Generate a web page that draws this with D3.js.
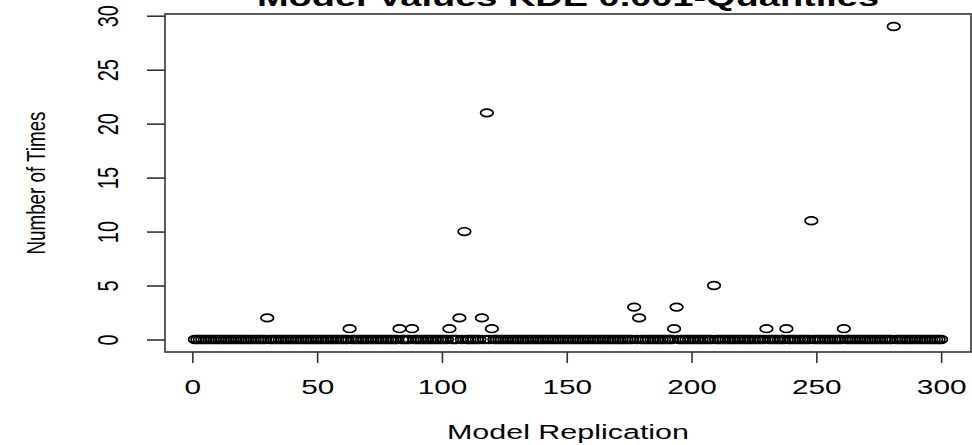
<!DOCTYPE html>
<html><head><meta charset="utf-8">
<script src="https://cdn.jsdelivr.net/npm/d3@7"></script>
<style>body{margin:0;background:#fff}svg{display:block}</style>
</head><body>
<svg id="c" width="972" height="445"></svg>
<script>
// Number of times per model replication (index 1..300)
const timesValues = [
  0,0,0,0,0,0,0,0,0,0,0,0,0,0,0,0,0,0,0,0,
  0,0,0,0,0,0,0,0,0,2,0,0,0,0,0,0,0,0,0,0,
  0,0,0,0,0,0,0,0,0,0,0,0,0,0,0,0,0,0,0,0,
  0,0,1,0,0,0,0,0,0,0,0,0,0,0,0,0,0,0,0,0,
  0,0,1,0,0,0,0,1,0,0,0,0,0,0,0,0,0,0,0,0,
  0,0,1,0,0,0,2,0,10,0,0,0,0,0,0,2,0,21,0,1,
  0,0,0,0,0,0,0,0,0,0,0,0,0,0,0,0,0,0,0,0,
  0,0,0,0,0,0,0,0,0,0,0,0,0,0,0,0,0,0,0,0,
  0,0,0,0,0,0,0,0,0,0,0,0,0,0,0,0,3,0,2,0,
  0,0,0,0,0,0,0,0,0,0,0,0,1,3,0,0,0,0,0,0,
  0,0,0,0,0,0,0,0,5,0,0,0,0,0,0,0,0,0,0,0,
  0,0,0,0,0,0,0,0,0,1,0,0,0,0,0,0,0,1,0,0,
  0,0,0,0,0,0,0,11,0,0,0,0,0,0,0,0,0,0,0,0,
  1,0,0,0,0,0,0,0,0,0,0,0,0,0,0,0,0,0,0,0,
  29,0,0,0,0,0,0,0,0,0,0,0,0,0,0,0,0,0,0,0
];
const xTicks = [0, 50, 100, 150, 200, 250, 300];
const yTicks = [0, 5, 10, 15, 20, 25, 30];
const titleText = "Model Values KDE 0.001-Quantiles";
const xLabel = "Model Replication";
const yLabel = "Number of Times";

const FONT = "'Liberation Sans', Arial, Helvetica, sans-serif";
const STRETCH = 1.45;
const box = {left: 165, right: 971, top: 14, bottom: 352};

const pts = timesValues.map((v, i) => ({rep: i + 1, v}));
const xExt = d3.extent(pts, d => d.rep), yExt = d3.extent(pts, d => d.v);
const xPad = (xExt[1] - xExt[0]) * 0.04, yPad = (yExt[1] - yExt[0]) * 0.04;
const x = d3.scaleLinear().domain([xExt[0] - xPad, xExt[1] + xPad]).range([box.left, box.right]);
const y = d3.scaleLinear().domain([yExt[0] - yPad, yExt[1] + yPad]).range([box.bottom, box.top]);

const svg = d3.select("#c");
svg.append("rect").attr("width", 972).attr("height", 445).attr("fill", "#fff");

function stretchText(sel, factor) {
  sel.each(function () {
    const len = this.getComputedTextLength();
    d3.select(this).attr("textLength", len * factor).attr("lengthAdjust", "spacingAndGlyphs");
  });
}

// points
svg.append("g").selectAll("ellipse").data(pts).join("ellipse")
  .attr("cx", d => x(d.rep)).attr("cy", d => y(d.v))
  .attr("rx", 6.3).attr("ry", 3.8)
  .attr("fill", "none").attr("stroke", "#000").attr("stroke-width", 1.7);

// box
svg.append("rect")
  .attr("x", box.left).attr("y", box.top)
  .attr("width", box.right - box.left).attr("height", box.bottom - box.top)
  .attr("fill", "none").attr("stroke", "#333").attr("stroke-width", 1.6);

// bottom axis
const gx = svg.append("g").attr("transform", `translate(0,${box.bottom})`)
  .call(d3.axisBottom(x).tickValues(xTicks).tickSize(11).tickSizeOuter(0).tickFormat(d3.format("d")));
gx.select(".domain").remove();
gx.selectAll(".tick line").attr("stroke", "#333").attr("stroke-width", 1.6);
gx.attr("font-family", FONT).attr("font-size", 20.5);
gx.selectAll(".tick text").attr("y", 42).attr("dy", 0)
  .attr("font-family", FONT).attr("font-size", 20.5).attr("fill", "#000");
stretchText(gx.selectAll(".tick text"), STRETCH);

// left axis
const gy = svg.append("g").attr("transform", `translate(${box.left},0)`)
  .call(d3.axisLeft(y).tickValues(yTicks).tickSize(18).tickSizeOuter(0).tickFormat(d3.format("d")));
gy.select(".domain").remove();
gy.selectAll(".tick line").attr("stroke", "#333").attr("stroke-width", 1.6);
gy.attr("font-family", FONT).attr("font-size", 20);
gy.selectAll(".tick text")
  .attr("x", 0).attr("y", 0).attr("dy", 0).attr("dx", 0)
  .attr("text-anchor", "middle")
  .attr("transform", "translate(-47,0) rotate(-90) scale(1,1.45)")
  .attr("font-family", FONT).attr("font-size", 20).attr("fill", "#000");

// title (clipped at the top edge as in the reference)
svg.append("text").attr("x", (box.left + box.right) / 2).attr("y", 6)
  .attr("text-anchor", "middle").attr("font-family", FONT).attr("font-weight", "bold")
  .attr("font-size", 25).attr("fill", "#000")
  .attr("textLength", 622).attr("lengthAdjust", "spacingAndGlyphs")
  .text(titleText);

// x label
svg.append("text").attr("x", (box.left + box.right) / 2).attr("y", 439)
  .attr("text-anchor", "middle").attr("font-family", FONT).attr("font-size", 20)
  .attr("fill", "#000").attr("textLength", 242).attr("lengthAdjust", "spacingAndGlyphs")
  .text(xLabel);

// y label
svg.append("text")
  .attr("transform", "translate(45,183) rotate(-90) scale(1,1.4)")
  .attr("text-anchor", "middle").attr("font-family", FONT).attr("font-size", 18.7)
  .attr("fill", "#000").attr("textLength", 143).attr("lengthAdjust", "spacingAndGlyphs")
  .text(yLabel);
</script>
</body></html>
